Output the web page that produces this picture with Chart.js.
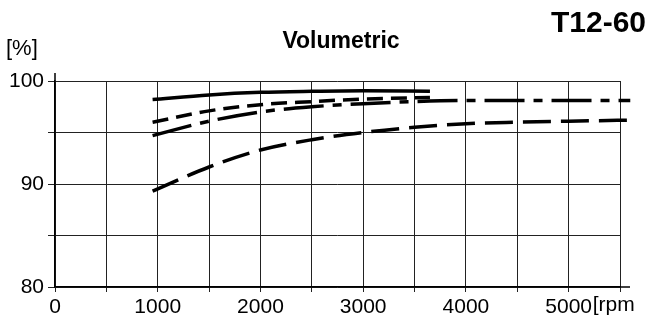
<!DOCTYPE html>
<html>
<head>
<meta charset="utf-8">
<script src="https://cdn.jsdelivr.net/npm/chart.js@4.4.1/dist/chart.umd.min.js"></script>
<style>
  html, body { margin: 0; padding: 0; background: #fff; }
  #wrap { width: 648px; height: 331px; position: relative; }
</style>
</head>
<body>
<div id="wrap"><canvas id="chart"></canvas></div>
<script>
const solidRpm = [950, 1500, 2000, 2500, 3000, 3650];
const solidVal = [98.2, 98.65, 98.9, 99.0, 99.05, 99.0];

const shortDashRpm = [950, 1500, 2000, 2500, 3000, 3650];
const shortDashVal = [96.0, 97.1, 97.7, 98.0, 98.25, 98.4];

const dashDotRpm = [950, 1500, 2000, 2500, 3000, 3500, 4000, 4500, 5000, 5600];
const dashDotVal = [94.7, 96.1, 97.0, 97.5, 97.8, 98.0, 98.1, 98.1, 98.1, 98.1];

const longDashRpm = [950, 1500, 2000, 2500, 3000, 3500, 4000, 4500, 5000, 5600];
const longDashVal = [89.3, 91.65, 93.3, 94.3, 95.0, 95.5, 95.85, 96.0, 96.1, 96.2];

const xLabels = [0, 1000, 2000, 3000, 4000, 5000];
const yLabels = [80, 90, 100];

const FONT = "\"Liberation Sans\", Arial, sans-serif";
Chart.defaults.font.family = FONT;
Chart.defaults.color = "#000";

const toPoints = (xs, ys) => xs.map((x, i) => ({ x, y: ys[i] }));

Chart.register({
  id: "extraLabels",
  afterDraw(chart) {
    const ctx = chart.ctx;
    const xs = chart.scales.x;
    const ys = chart.scales.y;
    ctx.save();
    // axis lines run a little past the plot box, as in the print
    ctx.strokeStyle = "#000";
    ctx.lineWidth = 1.5;
    ctx.beginPath();
    ctx.moveTo(xs.left, ys.top);
    ctx.lineTo(xs.left, ys.top - 8);
    ctx.moveTo(xs.right, ys.bottom);
    ctx.lineTo(xs.right + 10, ys.bottom);
    ctx.stroke();

    ctx.fillStyle = "#000";
    ctx.textBaseline = "alphabetic";
    ctx.textAlign = "center";
    ctx.font = "bold 23px " + FONT;
    ctx.fillText("Volumetric", 341, 48);
    ctx.textAlign = "right";
    ctx.font = "bold 30px " + FONT;
    ctx.fillText("T12-60", 646, 32);
    ctx.textAlign = "left";
    ctx.font = "22px " + FONT;
    ctx.fillText("[%]", 6, 55);
    ctx.font = "21px " + FONT;
    ctx.fillText("[rpm", xs.getPixelForValue(5000) + 24, 311);
    ctx.restore();
  }
});

function lineSet(label, xs, ys, dash) {
  return {
    label,
    data: toPoints(xs, ys),
    borderColor: "#000",
    borderWidth: 3.5,
    borderDash: dash,
    borderCapStyle: "butt",
    pointRadius: 0,
    cubicInterpolationMode: "monotone",
    fill: false
  };
}

new Chart(document.getElementById("chart"), {
  type: "line",
  data: {
    datasets: [
      lineSet("solid", solidRpm, solidVal, []),
      lineSet("short", shortDashRpm, shortDashVal, [16, 8]),
      lineSet("dashdot", dashDotRpm, dashDotVal, [40, 9, 9, 9]),
      lineSet("long", longDashRpm, longDashVal, [28, 10])
    ]
  },
  options: {
    responsive: true,
    maintainAspectRatio: false,
    animation: false,
    clip: false,
    layout: {
      padding: { top: 81, right: 28, bottom: 0, left: 0 }
    },
    plugins: {
      legend: { display: false },
      tooltip: { enabled: false },
      title: { display: false }
    },
    scales: {
      x: {
        type: "linear",
        min: 0,
        max: 5500,
        afterFit(scale) { scale.height = 44; },
        border: { color: "#000", width: 1.5 },
        grid: {
          color: "#222",
          lineWidth: 1,
          tickLength: 5,
          drawTicks: true
        },
        ticks: {
          stepSize: 500,
          autoSkip: false,
          maxRotation: 0,
          padding: 3,
          font: { size: 21 },
          callback: (v) => (xLabels.includes(v) ? String(v) : "")
        }
      },
      y: {
        min: 80,
        max: 100,
        afterFit(scale) { scale.width = 55; },
        border: { color: "#000", width: 1.5 },
        grid: {
          color: "#222",
          lineWidth: 1,
          tickLength: 7,
          drawTicks: true
        },
        ticks: {
          stepSize: 5,
          autoSkip: false,
          padding: 4,
          font: { size: 21 },
          callback: (v) => (yLabels.includes(v) ? String(v) : "")
        }
      }
    }
  }
});
</script>
</body>
</html>
